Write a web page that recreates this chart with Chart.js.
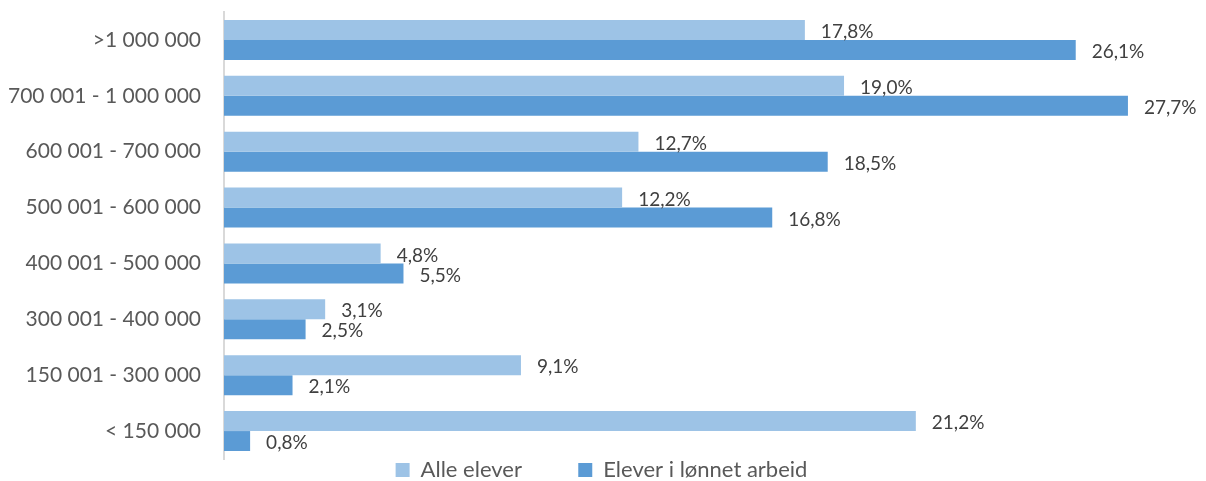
<!DOCTYPE html>
<html>
<head>
<meta charset="utf-8">
<script src="https://cdn.jsdelivr.net/npm/chart.js@4"></script>
<style>
  html, body { margin: 0; padding: 0; background: #fff; }
  #wrap { width: 1206px; height: 481px; position: relative; }
</style>
</head>
<body>
<div id="wrap"><canvas id="chart"></canvas></div>
<script>
const categories = [">1 000 000", "700 001 - 1 000 000", "600 001 - 700 000", "500 001 - 600 000",
  "400 001 - 500 000", "300 001 - 400 000", "150 001 - 300 000", "< 150 000"];
const alleElever = [17.8, 19.0, 12.7, 12.2, 4.8, 3.1, 9.1, 21.2];
const lonnetArbeid = [26.1, 27.7, 18.5, 16.8, 5.5, 2.5, 2.1, 0.8];
const seriesNames = ["Alle elever", "Elever i lønnet arbeid"];

const FONT = "Lato, 'Open Sans', sans-serif";

// draw value labels to the right of each bar
const valueLabels = {
  id: "valueLabels",
  afterDatasetsDraw(chart) {
    const ctx = chart.ctx;
    ctx.save();
    ctx.font = "19px " + FONT;
    ctx.fillStyle = "#404040";
    ctx.textBaseline = "middle";
    ctx.textAlign = "left";
    chart.data.datasets.forEach((ds, di) => {
      chart.getDatasetMeta(di).data.forEach((bar, i) => {
        const txt = ds.data[i].toFixed(1).replace(".", ",") + "%";
        ctx.fillText(txt, bar.x + 16, bar.y + 2);
      });
    });
    ctx.restore();
  }
};

new Chart(document.getElementById("chart"), {
  type: "bar",
  data: {
    labels: categories,
    datasets: [
      { label: seriesNames[0], data: alleElever, backgroundColor: "#9DC3E6",
        barPercentage: 1, categoryPercentage: 0.714 },
      { label: seriesNames[1], data: lonnetArbeid, backgroundColor: "#5B9BD5",
        barPercentage: 1, categoryPercentage: 0.714 }
    ]
  },
  options: {
    indexAxis: "y",
    responsive: true,
    maintainAspectRatio: false,
    animation: false,
    layout: { padding: { top: 12, right: 3, left: 0, bottom: -10 } },
    plugins: {
      legend: {
        position: "bottom",
        labels: {
          font: { family: FONT, size: 22, lineHeight: 1 },
          color: "#595959",
          boxWidth: 14,
          boxHeight: 14,
          padding: 0,
          generateLabels(chart) {
            const items = Chart.defaults.plugins.legend.labels.generateLabels(chart);
            items[0].text = items[0].text + "          ";
            return items;
          }
        }
      },
      tooltip: { enabled: false }
    },
    scales: {
      x: {
        min: 0,
        max: 30,
        display: false
      },
      y: {
        grid: { display: false },
        border: { display: true, color: "#D9D9D9", width: 2 },
        ticks: {
          font: { family: FONT, size: 21 },
          color: "#595959",
          padding: 15
        },
        afterFit(scale) {
          scale.width = 224;
          scale.paddingTop = 0;
          scale.paddingBottom = 0;
        }
      }
    }
  },
  plugins: [valueLabels]
});
</script>
</body>
</html>
